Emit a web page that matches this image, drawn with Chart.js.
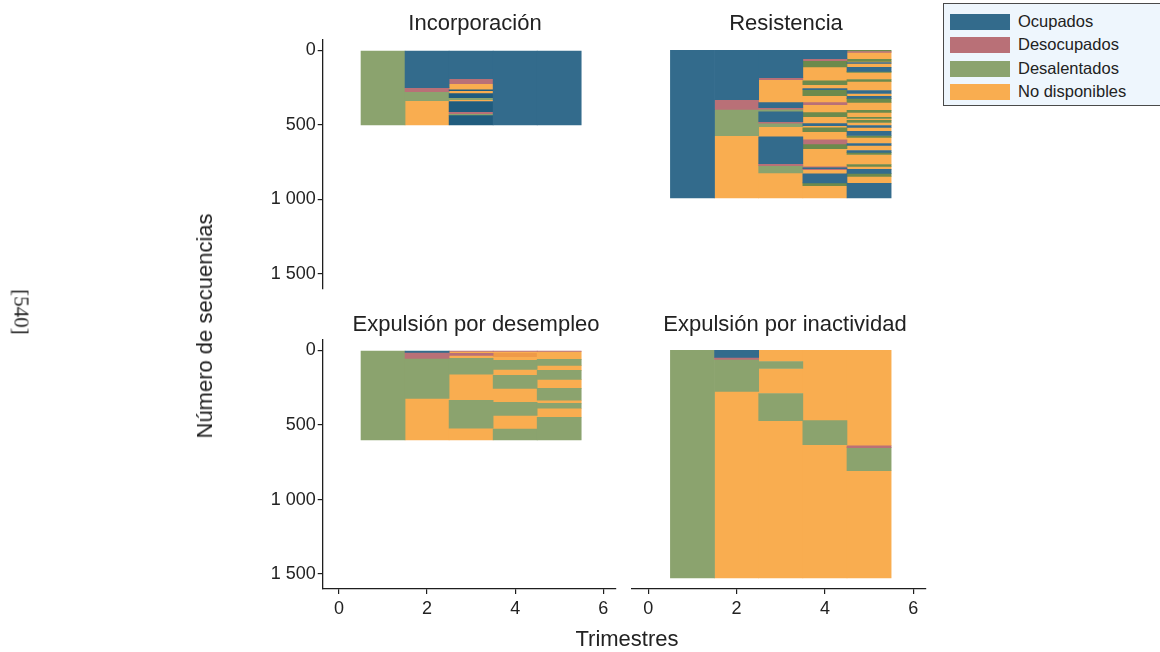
<!DOCTYPE html>
<html>
<head>
<meta charset="utf-8">
<script src="https://cdn.jsdelivr.net/npm/chart.js@4.4.1/dist/chart.umd.min.js"></script>
<style>
  html, body { margin: 0; padding: 0; background: #fff; }
  #wrap { position: relative; width: 1160px; height: 652px; overflow: hidden;
          font-family: 'Liberation Sans', Arial, sans-serif; color: #222; }
  #wrap canvas { position: absolute; left: 0; top: 0; }
  .txt { position: absolute; white-space: nowrap; line-height: 1; }
  .ptitle { font-size: 22px; transform: translateX(-50%); }
  #legend { position: absolute; left: 943px; top: 3px; width: 220px; height: 103px;
            background: #eef6fd; border: 1.5px solid #4a4a4a; box-sizing: border-box; }
  .lg-row { position: absolute; left: 6px; height: 17px; }
  .lg-sw { position: absolute; left: 0; top: 0; width: 60px; height: 16px; }
  .lg-tx { position: absolute; left: 68px; top: -1px; font-size: 16.5px; line-height: 17px; white-space: nowrap; color: #222; }
</style>
</head>
<body>
<div id="wrap">
  <canvas id="c0" width="1160" height="652"></canvas>
  <canvas id="c1" width="1160" height="652"></canvas>
  <canvas id="c2" width="1160" height="652"></canvas>
  <canvas id="c3" width="1160" height="652"></canvas>
  <div id="legend"></div>
</div>
<script>
// States of the labour trajectory
const OC = 0, DE = 1, DA = 2, ND = 3;
const states = ['Ocupados', 'Desocupados', 'Desalentados', 'No disponibles'];
const trimestres = [1, 2, 3, 4, 5];
const xTicks = [0, 2, 4, 6];
const yTicks = [0, 500, 1000, 1500];
const panelTitles = ['Incorporación', 'Resistencia', 'Expulsión por desempleo', 'Expulsión por inactividad'];
const xTitle = 'Trimestres';
const yTitle = 'Número de secuencias';
const pageMark = '[540]';

// Each column (one per trimestre) lists the sorted sequences as blocks:
// [state, sequence number where the block ends]
const incorporacion = [
  [[DA, 500]],
  [[OC, 250], [DE, 277], [DA, 338], [ND, 500]],
  [[OC, 190], [DE, 224], [ND, 264], [OC, 270], [ND, 290], [OC, 317], [DA, 330], [ND, 343],
   [OC, 411], [DE, 425], [DA, 438], [OC, 500]],
  [[OC, 500]],
  [[OC, 500]]
];

const resistencia = [
  [[OC, 990]],
  [[OC, 331], [DE, 396], [DA, 573], [ND, 990]],
  [[OC, 183], [DE, 197], [ND, 351], [OC, 385], [DE, 394], [DA, 412], [OC, 479], [DE, 488],
   [DA, 512], [ND, 580], [OC, 761], [DE, 774], [DA, 823], [ND, 990]],
  [[OC, 56], [DE, 69], [DA, 110], [ND, 204], [DA, 230], [ND, 257], [OC, 264], [DA, 304],
   [ND, 351], [DE, 365], [ND, 418], [DA, 445], [ND, 492], [OC, 506], [ND, 519], [DA, 546],
   [ND, 600], [DE, 627], [DA, 660], [ND, 781], [DE, 788], [OC, 794], [DE, 800], [ND, 828],
   [OC, 889], [DA, 909], [ND, 990]],
  [[DA, 7], [DE, 13], [ND, 60], [DA, 74], [ND, 81], [OC, 87], [ND, 114], [OC, 141], [DA, 148],
   [ND, 195], [DA, 208], [ND, 269], [OC, 289], [ND, 309], [OC, 322], [DA, 349], [ND, 403],
   [DA, 416], [ND, 450], [DA, 457], [ND, 470], [DA, 484], [ND, 504], [OC, 517], [ND, 544],
   [OC, 571], [DA, 584], [ND, 625], [OC, 638], [ND, 672], [OC, 685], [DA, 699], [ND, 766],
   [DA, 779], [ND, 799], [OC, 826], [DA, 846], [ND, 893], [OC, 990]]
];

const desempleo = [
  [[DA, 600]],
  [[OC, 13], [DE, 53], [DA, 321], [ND, 600]],
  [[DE, 7], [ND, 20], [DE, 33], [ND, 53], [DA, 160], [ND, 334], [DA, 522], [ND, 600]],
  [[DE, 7], [ND, 20], [ND, 47], [ND, 67], [DA, 127], [ND, 167], [DA, 254], [ND, 348], [DA, 435],
   [ND, 528], [DA, 600]],
  [[DE, 7], [ND, 60], [DA, 100], [ND, 134], [DA, 194], [ND, 254], [DA, 334], [ND, 354],
   [DA, 388], [ND, 448], [DA, 600]]
];

const inactividad = [
  [[DA, 1525]],
  [[OC, 47], [DE, 60], [DA, 275], [ND, 1525]],
  [[ND, 74], [DA, 121], [ND, 289], [DA, 471], [ND, 1525]],
  [[ND, 471], [DA, 632], [ND, 1525]],
  [[ND, 639], [DE, 652], [DA, 807], [ND, 1525]]
];

// Styling
const stateColors = ['#336b8c', '#b97077', '#8ba36e', '#f9ad50'];
const axisColor = '#1e1e1e';
const tickFont = { family: "'Liberation Sans', Arial, sans-serif", size: 18 };

function fmtThousands(v) {
  return v >= 1000 ? Math.floor(v / 1000) + ' ' + String(v % 1000).padStart(3, '0') : String(v);
}

// shades: optional darker fills for a state in some trimestres / sequence ranges
function fillFor(s, raw, shades) {
  if (raw && shades) {
    for (const r of shades) {
      if (r.state === s && r.cols.includes(raw.x) &&
          raw.y[0] >= (r.from ?? -Infinity) && raw.y[1] <= (r.to ?? Infinity)) return r.color;
    }
  }
  return stateColors[s];
}

function buildDatasets(columns, shades) {
  return states.map((name, s) => {
    const data = [];
    columns.forEach((blocks, c) => {
      let start = 0;
      blocks.forEach(([state, end]) => {
        if (state === s) data.push({ x: trimestres[c], y: [start, end] });
        start = end;
      });
    });
    return {
      label: name,
      data,
      backgroundColor: ctx => fillFor(s, ctx.raw, shades),
      borderWidth: 0,
      grouped: false,
      barPercentage: 1,
      categoryPercentage: 1
    };
  });
}

const Y_AXIS_W = 80, X_AXIS_H = 40, W = 1160, H = 652;
const panels = [
  { id: 'c0', columns: incorporacion, showY: true,  showX: false, area: { l: 322.7, r: 616, t: 40,  b: 288.7 },
    shades: [{ state: OC, cols: [3], from: 260, color: '#215c7e' }] },
  { id: 'c1', columns: resistencia,   showY: false, showX: false, area: { l: 632,   r: 926, t: 40,  b: 288.7 },
    shades: [{ state: DA, cols: [4, 5], color: '#6c8a4c' }] },
  { id: 'c2', columns: desempleo,     showY: true,  showX: true,  area: { l: 322.7, r: 616, t: 340, b: 589 },
    shades: [{ state: ND, cols: [4], from: 20, to: 47, color: '#ef9a48' }] },
  { id: 'c3', columns: inactividad,   showY: false, showX: true,  area: { l: 632,   r: 926, t: 340, b: 589 } }
];

panels.forEach(p => {
  const a = p.area;
  new Chart(document.getElementById(p.id), {
    type: 'bar',
    data: { datasets: buildDatasets(p.columns, p.shades) },
    options: {
      responsive: false,
      animation: false,
      events: [],
      layout: {
        padding: {
          left: a.l - (p.showY ? Y_AXIS_W : 0),
          right: W - a.r,
          top: a.t,
          bottom: H - a.b - (p.showX ? X_AXIS_H : 0)
        }
      },
      plugins: { legend: { display: false }, tooltip: { enabled: false }, title: { display: false } },
      scales: {
        x: {
          type: 'linear',
          display: p.showX,
          offset: false,
          min: -0.37,
          max: 6.29,
          afterBuildTicks: s => { s.ticks = xTicks.map(v => ({ value: v })); },
          afterFit: s => { if (p.showX) s.height = X_AXIS_H; },
          grid: { display: true, offset: false, drawOnChartArea: false, drawTicks: true, tickLength: 5, color: axisColor, lineWidth: 1.2 },
          border: { display: true, color: axisColor, width: 1.3 },
          ticks: { font: tickFont, color: '#222', padding: 4, maxRotation: 0, callback: v => String(v) }
        },
        y: {
          type: 'linear',
          display: p.showY,
          reverse: true,
          min: -70,
          max: 1600,
          afterBuildTicks: s => { s.ticks = yTicks.map(v => ({ value: v })); },
          afterFit: s => { if (p.showY) s.width = Y_AXIS_W; },
          grid: { display: true, offset: false, drawOnChartArea: false, drawTicks: true, tickLength: 5, color: axisColor, lineWidth: 1.2 },
          border: { display: true, color: axisColor, width: 1.3 },
          ticks: { font: tickFont, color: '#222', padding: 2, callback: v => fmtThousands(v) }
        }
      }
    }
  });
});

// Texts around the panels
const wrap = document.getElementById('wrap');
function addText(text, css, cls) {
  const d = document.createElement('div');
  d.className = 'txt' + (cls ? ' ' + cls : '');
  d.textContent = text;
  Object.assign(d.style, css);
  wrap.appendChild(d);
  return d;
}
addText(panelTitles[0], { left: '475px', top: '11.5px' }, 'ptitle');
addText(panelTitles[1], { left: '786px', top: '11.5px' }, 'ptitle');
addText(panelTitles[2], { left: '476px', top: '313px' }, 'ptitle');
addText(panelTitles[3], { left: '785px', top: '313px' }, 'ptitle');
addText(xTitle, { left: '627px', top: '627.5px', fontSize: '22px', transform: 'translateX(-50%)' });
addText(yTitle, { left: '205px', top: '326px', fontSize: '22px', lineHeight: '22px',
                  transform: 'translate(-50%, -50%) rotate(-90deg)' });
addText(pageMark, { left: '21px', top: '312px', fontSize: '21px', lineHeight: '21px',
                    fontFamily: "'Liberation Serif', 'DejaVu Serif', serif",
                    transform: 'translate(-50%, -50%) rotate(90deg)' });

// Legend
const legend = document.getElementById('legend');
const rowTops = [9.5, 33, 57, 79.5];
states.forEach((name, i) => {
  const row = document.createElement('div');
  row.className = 'lg-row';
  row.style.top = rowTops[i] + 'px';
  const sw = document.createElement('div');
  sw.className = 'lg-sw';
  sw.style.background = stateColors[i];
  const tx = document.createElement('div');
  tx.className = 'lg-tx';
  tx.textContent = name;
  row.appendChild(sw);
  row.appendChild(tx);
  legend.appendChild(row);
});
</script>
</body>
</html>
